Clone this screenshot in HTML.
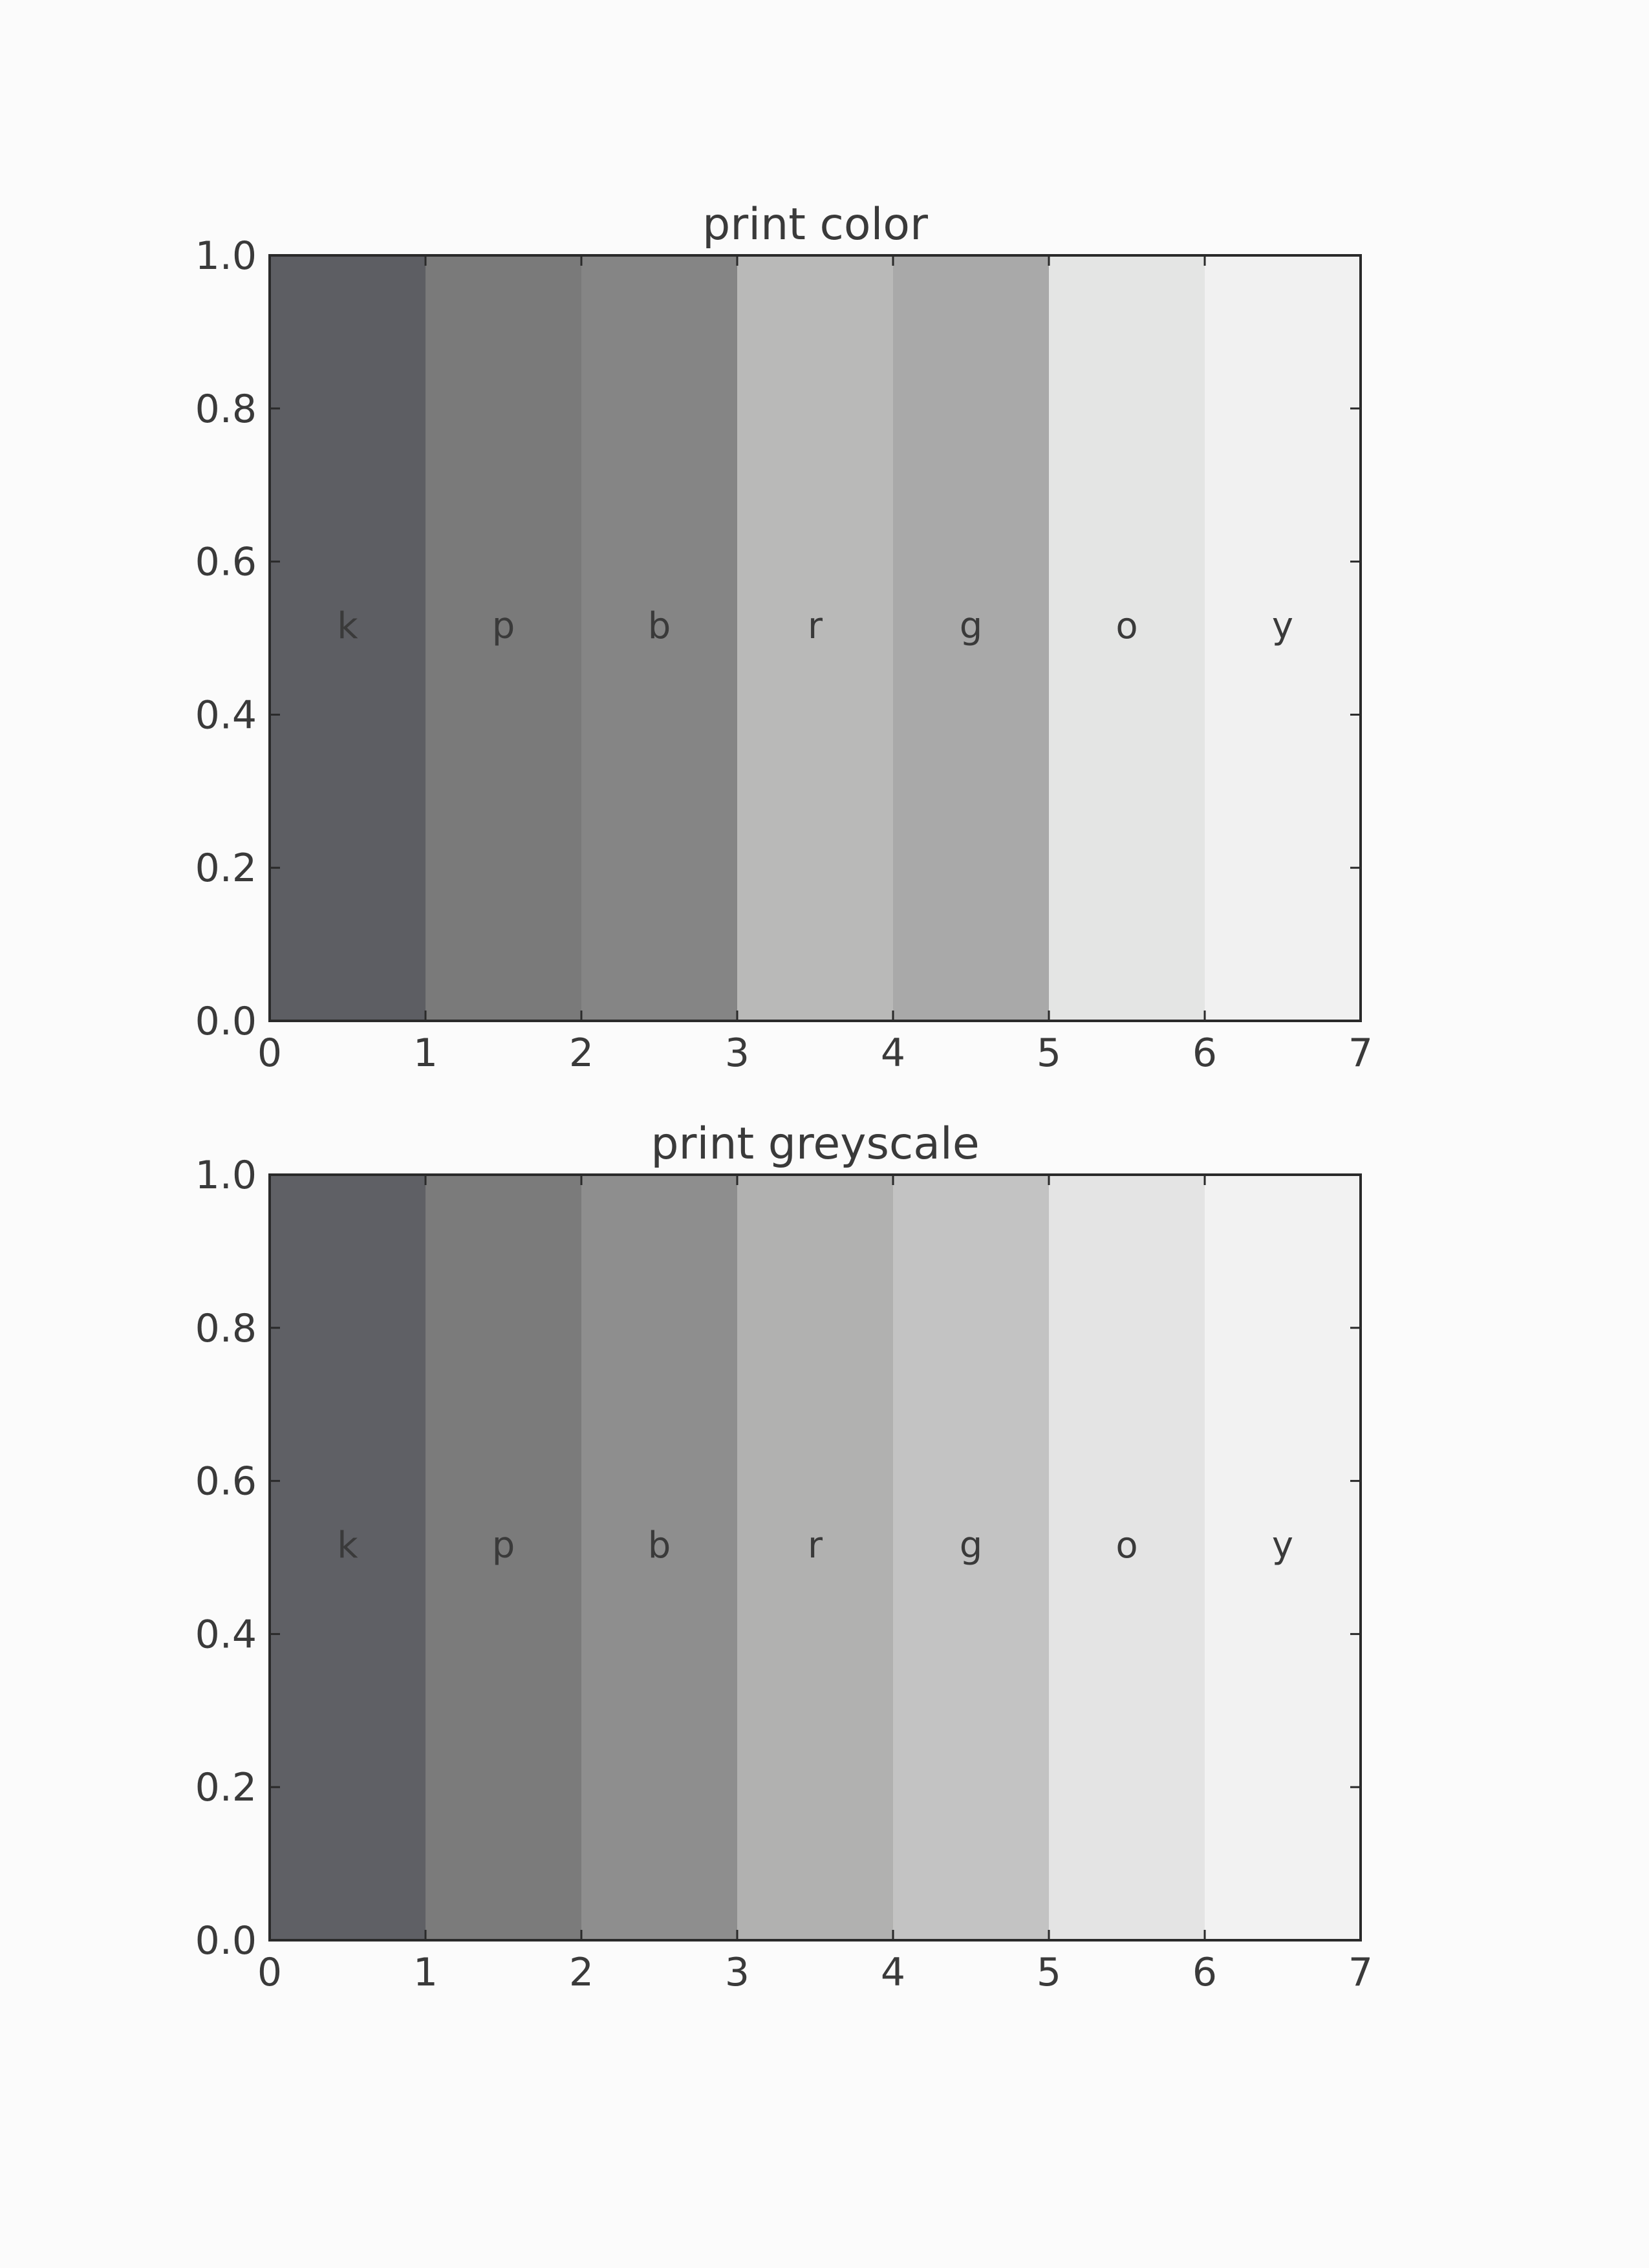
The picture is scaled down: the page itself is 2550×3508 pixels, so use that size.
<!DOCTYPE html>
<html><head><meta charset="utf-8"><style>
html,body{margin:0;padding:0;background:#fbfbfb;}
svg{display:block;}
text{font-family:"DejaVu Sans","Liberation Sans",sans-serif;fill:#3a3a3a;}
</style></head><body>
<svg id="chart" width="2550" height="3508" viewBox="0 0 2550 3508" xmlns="http://www.w3.org/2000/svg">
<rect width="2550" height="3508" fill="#fbfbfb"/>
</svg>
<script>
const categories = ["k","p","b","r","g","o","y"];
const colorShades = ["#5d5e63","#7a7a7a","#858585","#b9b9b8","#a9a9a9","#e4e5e4","#f1f1f1"];
const greyShades = ["#5f6065","#7b7b7b","#8e8e8e","#b1b1b0","#c3c3c3","#e4e4e4","#f2f2f2"];
const barHeights = [1,1,1,1,1,1,1];
const xTicks = [0,1,2,3,4,5,6,7];
const yTicks = [0.0,0.2,0.4,0.6,0.8,1.0];
const titles = ["print color","print greyscale"];

const NS = "http://www.w3.org/2000/svg";
const svg = document.getElementById("chart");
function mk(tag, attrs, parent){const e=document.createElementNS(NS,tag);for(const k in attrs)e.setAttribute(k,attrs[k]);(parent||svg).appendChild(e);return e;}

const left=417,right=2104,plotH=1184;
const tops=[395,1817];
const xs = v => left + (v-0)/(7-0)*(right-left);

[colorShades,greyShades].forEach((shades,pi)=>{
  const top=tops[pi], bottom=top+plotH;
  const ys = v => bottom - v*plotH;
  const g=mk("g",{});
  
  
  categories.forEach((c,i)=>{
    const r=mk("rect",{x:xs(i),y:ys(barHeights[i]),width:xs(i+1)-xs(i),height:ys(0)-ys(barHeights[i]),fill:shades[i]},g);
    
    
    const t=mk("text",{x:xs(i+0.5),y:ys(0.5),"font-size":56,"text-anchor":"middle",fill:"#444"},g);
    t.textContent=c;
    
    
  });
  const fr=mk("rect",{x:left,y:top,width:right-left,height:plotH,fill:"none",stroke:"#2a2a2a","stroke-width":4},g);
  
  
  xTicks.forEach(v=>{
    mk("line",{x1:xs(v),x2:xs(v),y1:bottom,y2:bottom-16,stroke:"#2a2a2a","stroke-width":3},g);
    mk("line",{x1:xs(v),x2:xs(v),y1:top,y2:top+16,stroke:"#2a2a2a","stroke-width":3},g);
    const t=mk("text",{x:xs(v),y:bottom+70,"font-size":60,"text-anchor":"middle"},g);
    t.textContent=String(v);
    
    
  });
  yTicks.forEach(v=>{
    mk("line",{x1:left,x2:left+16,y1:ys(v),y2:ys(v),stroke:"#2a2a2a","stroke-width":3},g);
    mk("line",{x1:right,x2:right-16,y1:ys(v),y2:ys(v),stroke:"#2a2a2a","stroke-width":3},g);
    const t=mk("text",{x:left-20,y:ys(v)+21,"font-size":60,"text-anchor":"end"},g);
    t.textContent=v.toFixed(1);
    
    
  });
  const tt=mk("text",{x:(left+right)/2,y:top-25,"font-size":68,"text-anchor":"middle"},g);
  tt.textContent=titles[pi];
  
  
});
</script>
</body></html>
